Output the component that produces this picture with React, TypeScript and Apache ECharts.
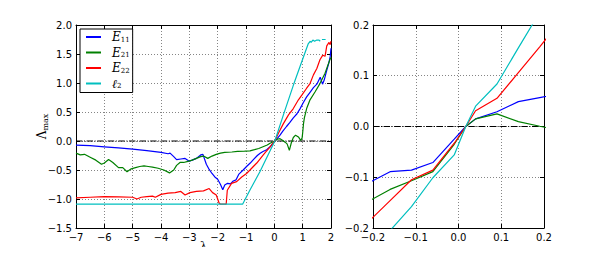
import React, { useEffect, useRef } from "react";
import * as echarts from "echarts";

// ---- data ----
const e11Main: [number, number][] = [
  [-7, -0.07], [-6.5, -0.08], [-6, -0.1], [-5.5, -0.12], [-5, -0.14], [-4.5, -0.165], [-4, -0.195],
  [-3.75, -0.22], [-3.68, -0.21], [-3.55, -0.27], [-3.45, -0.32], [-3.3, -0.31], [-3.15, -0.3],
  [-3.0, -0.35], [-2.9, -0.33], [-2.75, -0.3], [-2.6, -0.24], [-2.52, -0.23], [-2.4, -0.4],
  [-2.3, -0.49], [-2.2, -0.56], [-2.1, -0.62], [-2.0, -0.66], [-1.9, -0.75], [-1.82, -0.84],
  [-1.75, -0.76], [-1.65, -0.73], [-1.55, -0.74], [-1.45, -0.69], [-1.35, -0.67], [-1.25, -0.57],
  [-1.1, -0.5], [-0.98, -0.44], [-0.85, -0.38], [-0.74, -0.32], [-0.6, -0.25], [-0.5, -0.21],
  [-0.4, -0.18], [-0.27, -0.15], [-0.15, -0.1], [-0.05, -0.04], [0.017, 0], [0.1, 0.04],
  [0.2, 0.1], [0.3, 0.17], [0.43, 0.25], [0.55, 0.32], [0.67, 0.4], [0.8, 0.47], [0.9, 0.55],
  [1.02, 0.66], [1.14, 0.76], [1.26, 0.84], [1.38, 0.92], [1.5, 0.98], [1.62, 1.1], [1.7, 0.98],
  [1.76, 1.05], [1.84, 1.2], [1.92, 1.34], [1.97, 1.45], [2.0, 1.6],
];
const e21Main: [number, number][] = [
  [-7, -0.21], [-6.85, -0.24], [-6.7, -0.23], [-6.5, -0.28], [-6.3, -0.33], [-6.1, -0.4],
  [-6.0, -0.38], [-5.85, -0.32], [-5.7, -0.37], [-5.5, -0.46], [-5.35, -0.46], [-5.2, -0.53],
  [-5.05, -0.48], [-4.9, -0.46], [-4.75, -0.44], [-4.6, -0.43], [-4.45, -0.44], [-4.3, -0.45],
  [-4.1, -0.47], [-3.9, -0.5], [-3.7, -0.55], [-3.55, -0.5], [-3.45, -0.42], [-3.33, -0.37],
  [-3.2, -0.37], [-3.05, -0.35], [-2.9, -0.33], [-2.75, -0.3], [-2.6, -0.27], [-2.5, -0.26],
  [-2.35, -0.3], [-2.2, -0.26], [-2.05, -0.23], [-1.9, -0.21], [-1.75, -0.195], [-1.5, -0.19],
  [-1.3, -0.18], [-1.05, -0.175], [-0.86, -0.17], [-0.7, -0.15], [-0.55, -0.13], [-0.4, -0.1],
  [-0.25, -0.07], [-0.15, -0.04], [0.017, 0], [0.1, 0.03], [0.2, 0.04], [0.3, 0.01],
  [0.38, -0.02], [0.45, -0.05], [0.53, -0.16], [0.6, -0.03], [0.67, 0.06], [0.75, 0.1],
  [0.85, 0.07], [0.93, 0.01], [0.98, 0.05], [1.0, 0.14], [1.03, 0.3], [1.06, 0.4], [1.14, 0.56],
  [1.26, 0.71], [1.44, 0.85], [1.61, 0.99], [1.79, 1.17], [1.96, 1.4], [2.0, 1.44],
];
const e22Main: [number, number][] = [
  [-7, -0.98], [-6.5, -0.97], [-6, -0.96], [-5.5, -0.965], [-5, -0.97], [-4.85, -1.0],
  [-4.7, -0.97], [-4.5, -0.96], [-4.3, -0.95], [-4.2, -0.97], [-4.0, -0.92], [-3.75, -0.9],
  [-3.5, -0.89], [-3.3, -0.87], [-3.15, -0.93], [-2.98, -0.89], [-2.75, -0.87], [-2.5, -0.86],
  [-2.3, -0.82], [-2.18, -0.89], [-2.05, -0.93], [-1.95, -1.07], [-1.9, -1.09], [-1.7, -1.09],
  [-1.66, -0.85], [-1.51, -0.73], [-1.33, -0.7], [-1.15, -0.62], [-0.98, -0.56], [-0.8, -0.47],
  [-0.62, -0.38], [-0.39, -0.24], [-0.15, -0.1], [0.017, 0], [0.14, 0.13], [0.32, 0.3],
  [0.5, 0.45], [0.67, 0.56], [0.85, 0.71], [0.97, 0.79], [1.14, 0.91], [1.26, 0.99],
  [1.38, 1.14], [1.5, 1.25], [1.61, 1.4], [1.71, 1.48], [1.79, 1.46], [1.85, 1.64],
  [1.93, 1.7], [1.97, 1.66], [2.0, 1.72],
];
const l2Main: [number, number | null][] = [
  [-7, -1.09], [-1.12, -1.09], [-0.86, -0.845], [-0.51, -0.53], [-0.15, -0.17], [0.017, 0],
  [0.32, 0.45], [0.67, 0.96], [0.97, 1.37], [1.2, 1.68], [1.27, 1.72], [1.3, 1.7], [1.36, 1.74],
  [1.42, 1.72], [1.5, 1.74], [1.58, 1.74], [1.62, 1.72], [1.65, null], [1.68, 1.75], [1.81, 1.75],
];

const zoomLambda = [-0.21, -0.16, -0.11, -0.06, -0.01, 0.017, 0.04, 0.09, 0.14, 0.19, 0.24];
const e11Zoom = [-0.111, -0.089, -0.086, -0.071, -0.025, 0, 0.015, 0.029, 0.049, 0.057, 0.065];
const e21Zoom = [-0.147, -0.124, -0.107, -0.089, -0.035, 0, 0.015, 0.025, 0.0095, 0.0005, -0.008];
const e22Zoom = [-0.187, -0.146, -0.105, -0.086, -0.033, 0, 0.031, 0.0556, 0.106, 0.157, 0.21];
const l2Zoom = [-0.26, -0.205, -0.158, -0.101, -0.056, 0, 0.04, 0.0837, 0.155, 0.225, 0.29];

const seriesNames = ["E11", "E21", "E22", "l2"];
const seriesLabels = ["{i|E}{s|11}", "{i|E}{s|21}", "{i|E}{s|22}", "{i|\u2113}{s|2}"];
const colors = ["#0000ff", "#008000", "#ff0000", "#00bfbf"];
const xAxisTitle = "λ";

const mainRange = { xMin: -7, xMax: 2, xStep: 1, yMin: -1.5, yMax: 2, yStep: 0.5 };
const zoomRange = { xMin: -0.2, xMax: 0.2, xStep: 0.1, yMin: -0.2, yMax: 0.2, yStep: 0.1 };

const minus = (s: string) => s.replace("-", "\u2212");
const fmt1 = (v: number) => minus(Math.abs(v) < 1e-9 ? "0.0" : v.toFixed(1));
const fmt0 = (v: number) => minus(String(Math.round(v)));

const labelFont = { fontFamily: "DejaVu Sans", fontSize: 10, color: "#000" };

function axisPair(gridIndex: number, r: any, dir: "x" | "y", fmt: (v: number) => string, nameOpts: any) {
  const min = dir === "x" ? r.xMin : r.yMin;
  const max = dir === "x" ? r.xMax : r.yMax;
  const interval = dir === "x" ? r.xStep : r.yStep;
  const base = {
    type: "value",
    gridIndex,
    min,
    max,
    interval,
    axisLine: { show: true, onZero: false, lineStyle: { color: "#000", width: 1 } },
    axisTick: { show: true, inside: true, length: 4, lineStyle: { color: "#000", width: 1 } },
  };
  return [
    {
      ...base,
      position: dir === "x" ? "bottom" : "left",
      axisLabel: { ...labelFont, margin: 4, formatter: fmt },
      splitLine: { show: true, lineStyle: { color: "#666", width: 0.8, type: [1, 2] } },
      ...nameOpts,
    },
    {
      ...base,
      position: dir === "x" ? "top" : "right",
      axisLabel: { show: false },
      splitLine: { show: false },
    },
  ];
}

export default function App() {
  const ref = useRef<HTMLDivElement>(null);
  useEffect(() => {
    if (!ref.current) return;
    const chart = echarts.init(ref.current, null, { renderer: "svg" });
    const mainData = [e11Main, e21Main, e22Main, l2Main];
    const zoomData = [e11Zoom, e21Zoom, e22Zoom, l2Zoom];
    const zeroLine = {
      type: [6.4, 1.6, 1, 1.6],
      color: "#000",
      width: 1,
    };
    const series: any[] = [
      {
        type: "line",
        name: "zero-main",
        xAxisIndex: 0,
        yAxisIndex: 0,
        data: [[mainRange.xMin, 0], [mainRange.xMax, 0]],
        symbol: "none",
        lineStyle: zeroLine,
        z: 1,
      },
      {
        type: "line",
        name: "zero-zoom",
        xAxisIndex: 2,
        yAxisIndex: 2,
        data: [[zoomRange.xMin, 0], [zoomRange.xMax, 0]],
        symbol: "none",
        lineStyle: zeroLine,
        z: 1,
      },
    ];
    seriesNames.forEach((name, k) => {
      series.push({
        type: "line",
        name,
        xAxisIndex: 0,
        yAxisIndex: 0,
        data: mainData[k],
        symbol: "none",
        connectNulls: false,
        lineStyle: { color: colors[k], width: 1.2 },
        itemStyle: { color: colors[k] },
        z: 2 + k,
      });
      series.push({
        type: "line",
        name,
        xAxisIndex: 2,
        yAxisIndex: 2,
        data: zoomLambda.map((x, i) => [x, zoomData[k][i]]),
        symbol: "none",
        clip: true,
        lineStyle: { color: colors[k], width: 1.2 },
        itemStyle: { color: colors[k] },
        z: 2 + k,
      });
    });

    const serif = "DejaVu Serif";
    chart.setOption({
      animation: false,
      backgroundColor: "#fff",
      grid: [
        { left: 76, top: 25, width: 255, height: 203, outerBoundsMode: "none", containLabel: false },
        { left: 373, top: 25, width: 171, height: 203, outerBoundsMode: "none", containLabel: false },
      ],
      xAxis: [
        ...axisPair(0, mainRange, "x", fmt0, {}),
        ...axisPair(1, zoomRange, "x", fmt1, {}),
      ],
      yAxis: [
        ...axisPair(0, mainRange, "y", fmt1, {
          name: "{l|Λ}{s|max}",
          nameLocation: "middle",
          nameGap: 27,
          nameRotate: 90,
          nameMoveOverlap: false,
          nameTextStyle: {
            color: "#000",
            rich: {
              l: { fontFamily: serif, fontSize: 12, color: "#000", lineHeight: 14 },
              s: { fontFamily: serif, fontSize: 8, color: "#000", verticalAlign: "bottom", lineHeight: 8, padding: [6, 0, 0, 0] },
            },
          },
        }),
        ...axisPair(1, zoomRange, "y", fmt1, {}),
      ],
      graphic: [
        {
          type: "text",
          x: 203.5,
          y: 246.5,
          style: {
            text: xAxisTitle,
            fontFamily: serif,
            fontSize: 11,
            fill: "#000",
            align: "center",
            verticalAlign: "middle",
          },
        },
      ],
      legend: {
        data: seriesNames,
        orient: "vertical",
        left: 80,
        top: 29,
        backgroundColor: "#fff",
        borderColor: "#000",
        borderWidth: 1,
        borderRadius: 0,
        padding: [2, 3, 3, 6],
        itemGap: 3.5,
        itemWidth: 15,
        itemHeight: 2,
        icon: "rect",
        formatter: (name: string) => seriesLabels[seriesNames.indexOf(name)],
        textStyle: {
          color: "#000",
          padding: [0, 0, 0, 6],
          lineHeight: 12,
          rich: {
            i: { fontFamily: serif, fontStyle: "italic", fontSize: 12, color: "#000", lineHeight: 12 },
            s: { fontFamily: serif, fontSize: 7, color: "#000", verticalAlign: "bottom", lineHeight: 7, padding: [5, 0, 0, 0] },
          },
        },
      },
      series,
    });
    return () => chart.dispose();
  }, []);
  return <div ref={ref} style={{ width: 604, height: 255, margin: -8 }} />;
}
